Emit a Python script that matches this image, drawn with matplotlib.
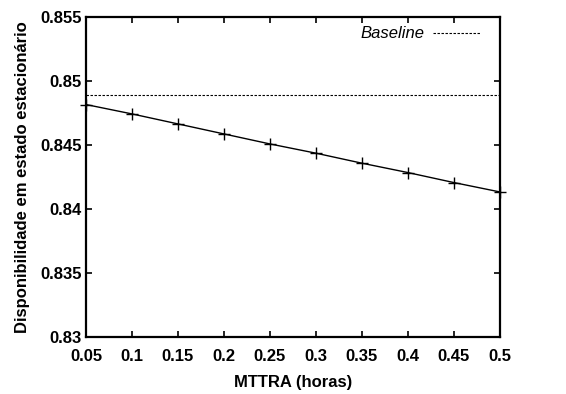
import matplotlib
matplotlib.use("Agg")
import matplotlib.pyplot as plt

# MTTRA sweep (hours) and resulting steady-state availability
mttra = [0.05, 0.10, 0.15, 0.20, 0.25, 0.30, 0.35, 0.40, 0.45, 0.50]
availability = [0.84814, 0.84741, 0.84663, 0.84585, 0.84507,
                0.84435, 0.84357, 0.84284, 0.84206, 0.84133]
baseline = 0.8489

x_ticks = [0.05, 0.1, 0.15, 0.2, 0.25, 0.3, 0.35, 0.4, 0.45, 0.5]
x_labels = ["0.05", "0.1", "0.15", "0.2", "0.25", "0.3", "0.35", "0.4", "0.45", "0.5"]
y_ticks = [0.83, 0.835, 0.84, 0.845, 0.85, 0.855]
y_labels = ["0.83", "0.835", "0.84", "0.845", "0.85", "0.855"]

plt.rcParams["font.family"] = ["Liberation Sans", "DejaVu Sans"]

fig = plt.figure(figsize=(5.66, 3.94), dpi=100)
ax = fig.add_axes([0.152, 0.144, 0.731, 0.814])

ax.plot(mttra, availability, color="black", linewidth=1.0, marker="+",
        markersize=8, markeredgewidth=1.0, clip_on=False, zorder=3)
ax.axhline(baseline, color="black", linewidth=0.8, linestyle=(0, (2.2, 1.4)),
           label="Baseline")

ax.set_xlim(0.05, 0.5)
ax.set_ylim(0.83, 0.855)
ax.set_xticks(x_ticks)
ax.set_xticklabels(x_labels)
ax.set_yticks(y_ticks)
ax.set_yticklabels(y_labels)

ax.tick_params(direction="in", length=4, width=1.2, top=True, right=True,
               labelsize=12)
ax.tick_params(axis="x", pad=8.5)
ax.tick_params(axis="y", pad=3)
for lbl in ax.get_xticklabels() + ax.get_yticklabels():
    lbl.set_fontweight("bold")
for sp in ax.spines.values():
    sp.set_linewidth(1.6)

ax.set_xlabel("MTTRA (horas)", fontsize=12, fontweight="bold", labelpad=8)
ax.set_ylabel("Disponibilidade em estado estacionário", fontsize=12,
              fontweight="bold", labelpad=7.5)

leg = ax.legend(loc="upper right", bbox_to_anchor=(0.968, 0.99),
                frameon=False, markerfirst=False,
                handlelength=2.8, handletextpad=0.5, borderaxespad=0.0,
                prop={"size": 12, "style": "italic"})

fig.savefig("out.png", dpi=100)
